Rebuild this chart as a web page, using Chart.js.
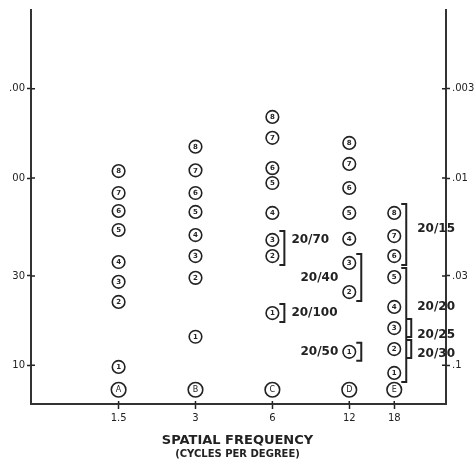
<!DOCTYPE html>
<html>
<head>
<meta charset="utf-8">
<script src="https://cdn.jsdelivr.net/npm/chart.js@4"></script>
<style>
  html, body { margin: 0; padding: 0; background: #fff; }
</style>
</head>
<body>
<canvas id="csChart" width="474" height="463"></canvas>
<script>
// spatial frequencies (cycles per degree), one row of patches each
const freqs = [1.5, 3, 6, 12, 18];
const rowLetters = ['A', 'B', 'C', 'D', 'E'];
const letterSens = 7.4;
const patchNums = ['1', '2', '3', '4', '5', '6', '7', '8'];

// contrast sensitivity of patches 1..8 in each row
const rowA = [9.8, 21.8, 27.9, 35.6, 52.8, 66.7, 83.2, 109];
const rowB = [14.2, 29.3, 38.3, 49.6, 65.9, 83.2, 110, 147];
const rowC = [19.0, 38.3, 46.7, 65.1, 94.1, 113, 164, 212];
const rowD = [11.8, 24.6, 35.2, 47.3, 65.1, 88.5, 119, 154];
const rowE = [9.1, 12.2, 15.8, 20.5, 29.6, 38.3, 49.0, 65.1];
const rows = [rowA, rowB, rowC, rowD, rowE];

const sensTicks = [10, 30, 100, 300];
const sensLabels = ['10', '30', '00', '.00'];
const contrastLabels = ['.1', '.03', '.01', '.003'];

// acuity brackets: row index, patch range, label anchor (patch number)
const brackets = [
  { row: 2, from: 2, to: 3, text: '20/70', side: 'right', at: 3, lane: 0 },
  { row: 2, from: 1, to: 1, text: '20/100', side: 'right', at: 1, lane: 0 },
  { row: 3, from: 2, to: 3, text: '20/40', side: 'left', at: 2.5, lane: 0 },
  { row: 3, from: 1, to: 1, text: '20/50', side: 'left', at: 1, lane: 0 },
  { row: 4, from: 6, to: 8, text: '20/15', side: 'right', at: 7.3, lane: 0 },
  { row: 4, from: 1, to: 5, text: '20/20', side: 'right', at: 4, lane: 0 },
  { row: 4, from: 3, to: 3, text: '20/25', side: 'right', at: 2.7, lane: 1 },
  { row: 4, from: 2, to: 2, text: '20/30', side: 'right', at: 1.8, lane: 1 }
];

const INK = '#222';

const datasets = rows.map((vals, i) => ({
  data: vals.map(v => ({ x: freqs[i], y: v })),
  marks: patchNums,
  pointRadius: 6.3,
  borderWidth: 1.6
}));
datasets.push({
  data: freqs.map(f => ({ x: f, y: letterSens })),
  marks: rowLetters,
  isLetters: true,
  pointRadius: 7.3,
  borderWidth: 1.6
});

const patchText = {
  id: 'patchText',
  afterDatasetsDraw(chart) {
    const ctx = chart.ctx;
    ctx.save();
    ctx.fillStyle = INK;
    ctx.textAlign = 'center';
    ctx.textBaseline = 'middle';
    chart.data.datasets.forEach((ds, i) => {
      ctx.font = ds.isLetters ? '8px "DejaVu Sans"' : 'bold 7px "DejaVu Sans"';
      chart.getDatasetMeta(i).data.forEach((pt, j) => {
        ctx.fillText(ds.marks[j], pt.x, pt.y + 0.5);
      });
    });
    ctx.restore();
  }
};

const acuityBrackets = {
  id: 'acuityBrackets',
  afterDatasetsDraw(chart) {
    const ctx = chart.ctx;
    ctx.save();
    ctx.strokeStyle = INK;
    ctx.fillStyle = INK;
    ctx.lineWidth = 2;
    ctx.font = 'bold 12px "DejaVu Sans"';
    ctx.textBaseline = 'middle';
    brackets.forEach(b => {
      const pts = chart.getDatasetMeta(b.row).data;
      const yOf = n => {
        const lo = Math.floor(n), f = n - lo;
        const y0 = pts[lo - 1].y;
        return f ? y0 + f * (pts[lo].y - y0) : y0;
      };
      const stacked = brackets.some(o => o.row === b.row && o.lane > 0);
      const cx = pts[0].x;
      const x = cx + 12 + b.lane * 5;
      const top = pts[b.to - 1].y - 9;
      const bot = pts[b.from - 1].y + 9;
      ctx.beginPath();
      ctx.moveTo(x - 5, top);
      ctx.lineTo(x, top);
      ctx.lineTo(x, bot);
      ctx.lineTo(x - 5, bot);
      ctx.stroke();
      const ty = yOf(b.at);
      if (b.side === 'right') {
        ctx.textAlign = 'left';
        ctx.fillText(b.text, cx + (stacked ? 23 : 19), ty);
      } else {
        ctx.textAlign = 'right';
        ctx.fillText(b.text, cx - 11, ty);
      }
    });
    ctx.restore();
  }
};

// tick marks cross the axis line, so add the inner half
const innerTicks = {
  id: 'innerTicks',
  afterDraw(chart) {
    const ctx = chart.ctx;
    const area = chart.chartArea;
    ctx.save();
    ctx.strokeStyle = INK;
    ctx.lineWidth = 1.5;
    ctx.beginPath();
    chart.scales.y.ticks.forEach(t => {
      const y = chart.scales.y.getPixelForValue(t.value);
      ctx.moveTo(area.left, y); ctx.lineTo(area.left + 4, y);
      ctx.moveTo(area.right - 4, y); ctx.lineTo(area.right, y);
    });
    chart.scales.x.ticks.forEach(t => {
      const x = chart.scales.x.getPixelForValue(t.value);
      ctx.moveTo(x, area.bottom); ctx.lineTo(x, area.bottom - 3);
    });
    ctx.stroke();
    ctx.restore();
  }
};

const axisTitles = {
  id: 'axisTitles',
  afterDraw(chart) {
    const ctx = chart.ctx;
    const area = chart.chartArea;
    const cx = (area.left + area.right) / 2 - 1;
    ctx.save();
    ctx.fillStyle = INK;
    ctx.textAlign = 'center';
    ctx.textBaseline = 'middle';
    ctx.font = 'bold 13px "DejaVu Sans"';
    ctx.fillText('SPATIAL FREQUENCY', cx, area.bottom + 37);
    ctx.font = 'bold 10px "DejaVu Sans"';
    ctx.fillText('(CYCLES PER DEGREE)', cx, area.bottom + 50);
    ctx.restore();
  }
};

const tickFont = { family: 'DejaVu Sans', size: 10 };

new Chart(document.getElementById('csChart'), {
  type: 'scatter',
  data: { datasets: datasets },
  options: {
    responsive: false,
    animation: false,
    layout: { padding: { top: 10, left: 0, right: 0, bottom: 0 } },
    elements: {
      point: { backgroundColor: '#fff', borderColor: INK, pointStyle: 'circle' }
    },
    plugins: { legend: { display: false }, tooltip: { enabled: false } },
    scales: {
      x: {
        type: 'logarithmic',
        min: 0.681,
        max: 28.7,
        afterBuildTicks: s => { s.ticks = freqs.map(v => ({ value: v })); },
        afterFit: s => { s.height = 59; },
        ticks: { callback: v => String(v), autoSkip: false, maxRotation: 0, font: tickFont, color: INK, padding: 3 },
        grid: { drawOnChartArea: false, tickLength: 5, color: INK, tickWidth: 1.5 },
        border: { color: '#333', width: 2 }
      },
      y: {
        type: 'logarithmic',
        position: 'left',
        min: 6.21,
        max: 790,
        afterBuildTicks: s => { s.ticks = sensTicks.map(v => ({ value: v })); },
        afterFit: s => { s.width = 31; },
        ticks: { callback: (v, i) => sensLabels[i], autoSkip: false, font: tickFont, color: INK, padding: 2 },
        grid: { drawOnChartArea: false, tickLength: 4, color: INK, tickWidth: 1.5 },
        border: { color: '#333', width: 2 }
      },
      y2: {
        type: 'logarithmic',
        position: 'right',
        min: 6.21,
        max: 790,
        afterBuildTicks: s => { s.ticks = sensTicks.map(v => ({ value: v })); },
        afterFit: s => { s.width = 28; },
        ticks: { callback: (v, i) => contrastLabels[i], autoSkip: false, font: tickFont, color: INK, padding: 2 },
        grid: { drawOnChartArea: false, tickLength: 4, color: INK, tickWidth: 1.5 },
        border: { color: '#333', width: 2 }
      }
    }
  },
  plugins: [patchText, acuityBrackets, innerTicks, axisTitles]
});
</script>
</body>
</html>
